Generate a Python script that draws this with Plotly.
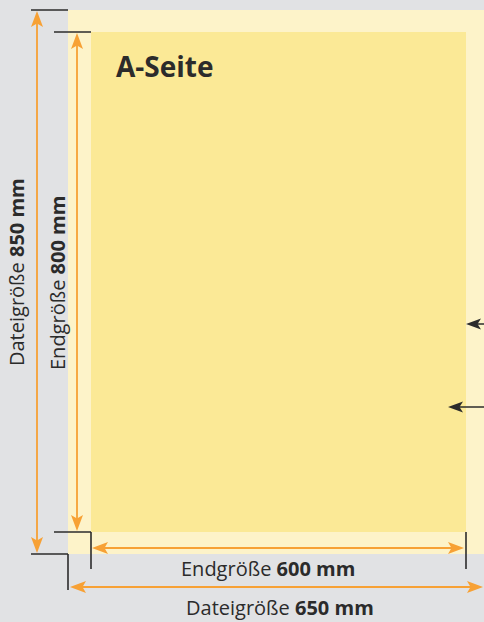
import plotly.graph_objects as go

# ---- data ----
dim_names = ["Dateigröße", "Endgröße", "Endgröße", "Dateigröße"]
dim_values = [850, 800, 600, 650]
dim_unit = "mm"
page_title = "A-Seite"

# ---- styles ----
BG = "#e1e2e4"
OUTER = "#fdf3c9"
INNER = "#fbe996"
ORANGE = "#f7a135"
DARK = "#2b2b2b"
FONT = "Open Sans"
W, H = 484, 622

# geometry (pixel layout of the diagram)
OX0, OY0, OX1, OY1 = 68, 10, 490, 554     # outer (file size) rect
IX0, IY0, IX1, IY1 = 91, 32, 466, 532     # inner (final size) rect

shapes = []
annotations = []

def rect(x0, y0, x1, y1, color):
    shapes.append(dict(type="rect", xref="x", yref="y", x0=x0, y0=y0, x1=x1, y1=y1,
                       fillcolor=color, line=dict(width=0), layer="below"))

def line(x0, y0, x1, y1, color, w=1.8):
    shapes.append(dict(type="line", xref="x", yref="y", x0=x0, y0=y0, x1=x1, y1=y1,
                       line=dict(color=color, width=w)))

def head(tx, ty, dx, dy, color, length=16, half=6, notch=3.5):
    # dart-shaped arrowhead, tip at (tx,ty), pointing in direction (dx,dy)
    px, py = -dy, dx
    bx, by = tx - dx * length, ty - dy * length
    nx, ny = tx - dx * (length - notch), ty - dy * (length - notch)
    p = (f"M {tx},{ty} L {bx + px*half},{by + py*half} L {nx},{ny} "
         f"L {bx - px*half},{by - py*half} Z")
    shapes.append(dict(type="path", xref="x", yref="y", path=p,
                       fillcolor=color, line=dict(width=0)))

def text(x, y, s, size=20, angle=0, bold=False):
    annotations.append(dict(x=x, y=y, xref="x", yref="y", text=(f"<b>{s}</b>" if bold else s),
                            showarrow=False, textangle=angle,
                            font=dict(family=FONT, size=size, color=DARK),
                            xanchor="center", yanchor="middle"))

labels = [f"{n} <b>{v} {dim_unit}</b>" for n, v in zip(dim_names, dim_values)]

rect(OX0, OY0, OX1, OY1, OUTER)
rect(IX0, IY0, IX1, IY1, INNER)

# black extension ticks
line(31, OY0, OX0, OY0, DARK, 1.6)
line(54, IY0, IX0, IY0, DARK, 1.6)
line(54, IY1, IX0, IY1, DARK, 1.6)
line(IX0, IY1, IX0, 569, DARK, 1.6)
line(31, OY1, OX0, OY1, DARK, 1.6)
line(OX0, OY1, OX0, 590, DARK, 1.6)
line(IX1, IY1, IX1, 569, DARK, 1.6)

# vertical dimension arrows
line(37, OY0 + 8, 37, OY1 - 8, ORANGE)
head(37, OY0 + 1, 0, -1, ORANGE)
head(37, OY1 - 1, 0, 1, ORANGE)
line(77, IY0 + 8, 77, IY1 - 8, ORANGE)
head(77, IY0 + 1, 0, -1, ORANGE)
head(77, IY1 - 1, 0, 1, ORANGE)

# horizontal dimension arrows
line(IX0 + 8, 548, IX1 - 8, 548, ORANGE)
head(IX0 + 1, 548, -1, 0, ORANGE)
head(IX1 - 2, 548, 1, 0, ORANGE)
line(OX0 + 8, 587, W - 8, 587, ORANGE)
head(OX0 + 2, 587, -1, 0, ORANGE)
head(W - 1, 587, 1, 0, ORANGE)

# black pointer arrows at right
line(IX1 + 8, 324, W, 324, DARK, 1.5)
head(IX1, 324, -1, 0, DARK, length=15, half=5.5, notch=3.5)
line(448 + 8, 407, W, 407, DARK, 1.5)
head(448, 407, -1, 0, DARK, length=15, half=5.5, notch=3.5)

# texts
text(165, 66, page_title, size=28, bold=True)
text(16, 272, labels[0], angle=-90)
text(57, 283, labels[1], angle=-90)
text(268, 568, labels[2])
text(280, 607, labels[3])

fig = go.Figure()
fig.add_trace(go.Scatter(x=[0], y=[0], mode="markers", marker=dict(opacity=0),
                         hoverinfo="skip", showlegend=False))
fig.update_layout(
    width=W, height=H, autosize=False,
    margin=dict(l=0, r=0, t=0, b=0),
    paper_bgcolor=BG, plot_bgcolor=BG,
    xaxis=dict(range=[0, W], visible=False, fixedrange=True),
    yaxis=dict(range=[H, 0], visible=False, fixedrange=True),
    shapes=shapes, annotations=annotations, showlegend=False,
)
fig.write_html(
    "out.html",
    config={"displayModeBar": False},
    post_script="document.body.style.margin='0';document.body.style.padding='0';"
                "document.body.style.overflow='hidden';document.body.style.background='#e1e2e4';",
)
